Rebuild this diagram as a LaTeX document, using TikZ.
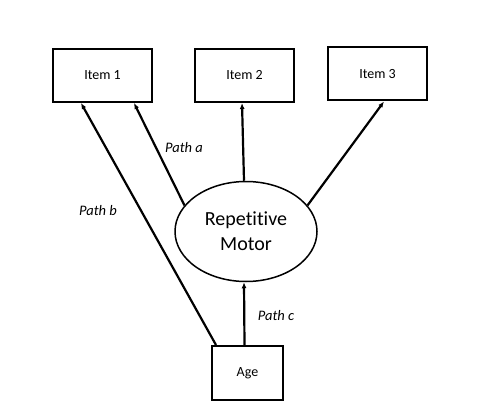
\documentclass[tikz,border=0pt]{standalone}
\usepackage{fontspec}
\setmainfont[Ligatures=NoCommon]{Carlito}
\usetikzlibrary{arrows.meta,shapes.geometric,calc}
\begin{document}
\begin{tikzpicture}[x=1pt,y=-1pt,
  itembox/.style={draw,line width=2pt,minimum width=99pt,minimum height=53pt,inner sep=0pt,font=\fontsize{14}{16}\selectfont},
  agebox/.style={draw,line width=2pt,minimum width=71pt,minimum height=54pt,inner sep=0pt,font=\fontsize{14}{16}\selectfont},
  latent/.style={draw,ellipse,line width=1.5pt,minimum width=142pt,minimum height=100pt,inner sep=0pt,align=center,font=\fontsize{20}{25}\selectfont},
  arr/.style={line width=2.2pt,-{Latex[length=6pt,width=5pt]}},
  lbl/.style={font=\fontsize{14.5}{16}\selectfont\itshape}]
\useasboundingbox (0,0) rectangle (503,417);
\node[itembox] (i1) at (102.5,75.5) {Item 1};
\node[itembox] (i2) at (244.5,75.5) {Item 2};
\node[itembox] (i3) at (377.5,74) {Item 3};
\node[latent] (rm) at (246,231.5) {Repetitive\\Motor};
\node[agebox] (age) at (247.5,373) {Age};
\draw[arr] ($(age.north west)+(5,0)$) -- ($(i1.south west)+(29,0)$);
\draw[arr] (rm.157) -- ($(i1.south east)+(-19,0)$);
\draw[arr] ($(rm.north)+(-2,0)$) -- ($(i2.south)+(-2.5,0)$);
\draw[arr] (rm.23) -- ($(i3.south east)+(-44,0)$);
\draw[arr] ($(age.north)+(-3,0)$) -- ($(rm.south)+(-2,0)$);
\node[lbl] (pa) at (184,148) {Path a};
\node[lbl] (pb) at (98,211) {Path b};
\node[lbl] (pc) at (276,316) {Path c};
\end{tikzpicture}
\end{document}
